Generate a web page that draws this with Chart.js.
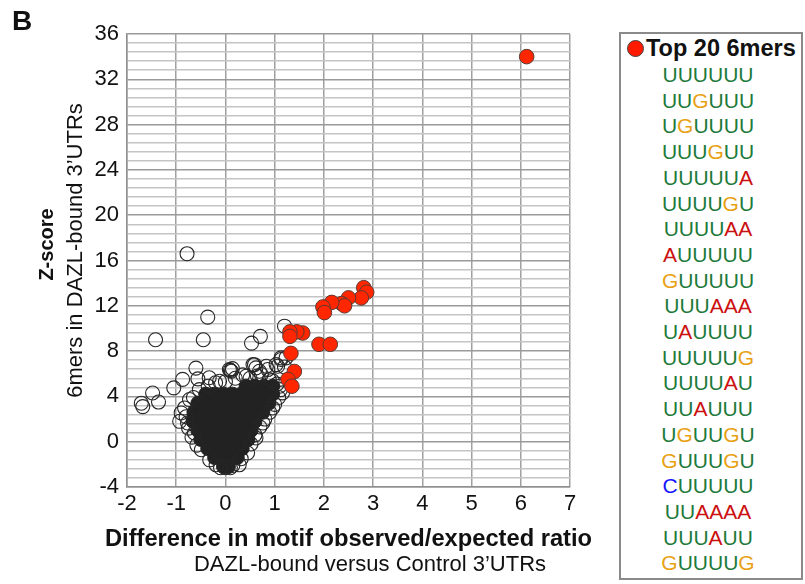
<!DOCTYPE html>
<html>
<head>
<meta charset="utf-8">
<script src="https://cdn.jsdelivr.net/npm/chart.js@4.4.1/dist/chart.umd.min.js"></script>
<style>
    body { margin: 0; background: #fff; font-family: 'Liberation Sans', Arial, sans-serif; }
    #wrap { position: relative; width: 805px; height: 584px; }
    #plot { position: absolute; left: 0; top: 0; }
    .motif-box {
        position: absolute; left: 619px; top: 32px; width: 184px; height: 548px;
        border: 2px solid #8a8a8a; box-sizing: border-box;
    }
    .motif-head { display: flex; align-items: center; height: 27px; margin-top: 1px; padding-left: 6px; }
    .motif-dot { width: 15px; height: 15px; border-radius: 50%; background: #ff1a00; border: 1.5px solid #444; margin-right: 2px; }
    .motif-title { font-weight: bold; font-size: 23.5px; color: #111; }
    .motif-list { text-align: center; font-size: 21px; line-height: 25.7px; padding-right: 6px; }
    .nt-U { color: #1d7a3a; }
    .nt-G { color: #e8a114; }
    .nt-A { color: #cc1010; }
    .nt-C { color: #1414ff; }
</style>
</head>
<body>
<div id="wrap">
    <canvas id="plot" width="610" height="584"></canvas>
    <div class="motif-box">
        <div class="motif-head"><span class="motif-dot"></span><span class="motif-title">Top 20 6mers</span></div>
        <div class="motif-list" id="motifList"></div>
    </div>
</div>
<script>
// Top 20 6mers (legend list, in order)
const topMotifs = ['UUUUUU', 'UUGUUU', 'UGUUUU', 'UUUGUU', 'UUUUUA', 'UUUUGU', 'UUUUAA',
    'AUUUUU', 'GUUUUU', 'UUUAAA', 'UAUUUU', 'UUUUUG', 'UUUUAU', 'UUAUUU', 'UGUUGU',
    'GUUUGU', 'CUUUUU', 'UUAAAA', 'UUUAUU', 'GUUUUG'];

// Top 20 6mers: [difference in obs/exp ratio, Z-score]
const topPoints = [
    [6.12, 34.0], [2.81, 13.6], [2.87, 13.2], [2.76, 12.7], [2.50, 12.7], [2.36, 12.2],
    [2.42, 12.0], [2.16, 12.3], [1.98, 11.9], [2.01, 11.4], [1.57, 9.6], [1.45, 9.7],
    [1.31, 9.7], [1.31, 9.3], [1.90, 8.6], [2.13, 8.6], [1.33, 7.8], [1.40, 6.2],
    [1.27, 5.5], [1.35, 4.9]
];

// Other 6mers, dense centre of the cloud (drawn solid)
const cloudCore = [
    [-0.04, -2.2], [0.06, -2.2],
    [-0.22, -1.4], [-0.04, -1.4], [0.14, -1.4], [0.24, -1.4],
    [-0.36, -0.6], [-0.18, -0.6], [0, -0.6], [0.18, -0.6], [0.34, -0.6],
    [-0.5, 0.2], [-0.32, 0.2], [-0.14, 0.2], [0.04, 0.2], [0.22, 0.2], [0.4, 0.2], [0.46, 0.2],
    [-0.56, 1.0], [-0.38, 1.0], [-0.2, 1.0], [-0.02, 1.0], [0.16, 1.0], [0.34, 1.0], [0.52, 1.0],
    [-0.66, 1.8], [-0.48, 1.8], [-0.3, 1.8], [-0.12, 1.8], [0.06, 1.8], [0.24, 1.8], [0.42, 1.8], [0.6, 1.8],
    [-0.64, 2.6], [-0.46, 2.6], [-0.28, 2.6], [-0.1, 2.6], [0.08, 2.6], [0.26, 2.6], [0.44, 2.6], [0.62, 2.6], [0.76, 2.6],
    [-0.56, 3.4], [-0.38, 3.4], [-0.2, 3.4], [-0.02, 3.4], [0.16, 3.4], [0.34, 3.4], [0.52, 3.4], [0.7, 3.4], [0.88, 3.4],
    [-0.4, 4.2], [-0.22, 4.2], [-0.04, 4.2], [0.14, 4.2], [0.32, 4.2], [0.5, 4.2], [0.68, 4.2], [0.86, 4.2], [0.96, 4.2],
    [0.42, 4.9], [0.6, 4.9], [0.78, 4.9], [0.96, 4.9]
];

// Other 6mers, visible open circles (edge of the cloud and outliers)
const cloudRings = [
    [-0.78, 16.6], [-0.36, 11.0], [-1.42, 9.0], [-0.45, 9.0], [1.20, 10.2], [0.71, 9.3], [0.53, 8.7],
    [-1.71, 3.4], [-1.68, 3.1], [-1.36, 3.5], [-1.48, 4.3], [-1.05, 4.75], [-0.87, 5.5], [-0.6, 6.5],
    [-0.56, 5.55], [-0.33, 5.65], [0.08, 6.37], [0.12, 6.22], [0.10, 6.3], [0.14, 6.45], [-0.12, 5.34],
    [0.42, 5.78], [0.59, 6.8], [0.62, 6.52], [0.83, 6.66], [1.03, 6.81], [1.13, 7.26], [0.73, 5.93],
    [0.89, 5.49], [1.10, 4.9], [1.16, 4.31], [0.96, 2.98], [0.76, 1.65], [0.62, 0.33], [0.45, -1.0],
    [0.28, -2.04], [-0.19, -2.04], [-0.49, -0.71], [-0.63, 0.77], [-0.77, 1.65], [-0.93, 1.8],
    [-0.9, 2.54], [-0.83, 2.98], [-0.73, 3.72], [-0.53, 4.6], [1.06, 6.66], [1.13, 7.4], [0.86, 6.37],
    [0.69, 6.22], [0.56, 6.81], [1.23, 7.4], [1.2, 6.6],
    [-0.75, 1.2], [-0.8, 2.2], [-0.65, 3.9], [-0.35, 4.9], [-0.2, 5.2], [0.0, 5.3], [0.2, 5.6],
    [0.35, 5.9], [0.5, 5.6], [0.65, 5.8], [0.95, 5.4], [1.05, 5.1], [1.12, 4.6], [1.08, 3.9],
    [1.0, 3.3], [0.9, 2.6], [0.8, 2.0], [0.7, 1.3], [0.6, 0.6], [0.52, -0.2], [0.32, -1.5],
    [0.15, -2.1], [-0.32, -1.6], [-0.58, -0.3], [-0.68, 0.4], [0.0, -2.3], [-0.1, -2.3], [0.1, -2.3]
];

// Axis ranges
const xRange = [-2, 7];
const yRange = [-4, 36];
const yLabelStep = 4;
const yMinorStep = 0.8;

const FONT = "'Liberation Sans', Arial, sans-serif";

// Legend list with coloured nucleotides
const list = document.getElementById('motifList');
list.innerHTML = topMotifs.map(m =>
    '<div>' + m.split('').map(n => `<span class="nt-${n}">${n}</span>`).join('') + '</div>'
).join('');

function toXY(arr) {
    return arr.map(p => ({ x: p[0], y: p[1] }));
}

function isMajor(v) {
    return Math.round(v * 10) % (yLabelStep * 10) === 0;
}

// Titles of the axes and panel letter
const axisTitles = {
    id: 'axisTitles',
    afterDraw(chart) {
        const ctx = chart.ctx;
        const area = chart.chartArea;
        const midY = (area.top + area.bottom) / 2;
        ctx.save();
        ctx.fillStyle = '#111';
        ctx.textBaseline = 'alphabetic';

        ctx.textAlign = 'left';
        ctx.font = `bold 28px ${FONT}`;
        ctx.fillText('B', 12, 30);

        ctx.textAlign = 'center';
        ctx.font = `bold 23.7px ${FONT}`;
        ctx.fillText('Difference in motif observed/expected ratio', (area.left + area.right) / 2, 546);
        ctx.font = `22px ${FONT}`;
        ctx.fillText('DAZL-bound versus Control 3\u2019UTRs', 370, 571);

        ctx.translate(53, midY - 16);
        ctx.rotate(-Math.PI / 2);
        ctx.font = `bold 20px ${FONT}`;
        ctx.fillText('Z-score', 0, 0);
        ctx.restore();

        ctx.save();
        ctx.fillStyle = '#111';
        ctx.textAlign = 'center';
        ctx.translate(82, midY - 10);
        ctx.rotate(-Math.PI / 2);
        ctx.font = `22px ${FONT}`;
        ctx.fillText('6mers in DAZL-bound 3\u2019UTRs', 0, 0);
        ctx.restore();
    }
};

new Chart(document.getElementById('plot'), {
    type: 'scatter',
    data: {
        datasets: [
            {
                label: 'Top 20 6mers',
                data: toXY(topPoints),
                pointRadius: 7.3,
                backgroundColor: '#ff2600',
                borderColor: '#5a3a34',
                borderWidth: 1,
                order: 0
            },
            {
                label: 'Other 6mers',
                data: toXY(cloudRings),
                pointRadius: 7,
                backgroundColor: 'rgba(0,0,0,0)',
                borderColor: '#262626',
                borderWidth: 1.1,
                order: 1
            },
            {
                label: 'Other 6mers (dense)',
                data: toXY(cloudCore),
                pointRadius: 7,
                backgroundColor: '#222',
                borderColor: '#222',
                borderWidth: 1,
                order: 2
            }
        ]
    },
    options: {
        responsive: false,
        animation: false,
        layout: { padding: { left: 0, top: 34, right: 40, bottom: 57 } },
        plugins: {
            legend: { display: false },
            tooltip: { enabled: false }
        },
        scales: {
            x: {
                type: 'linear',
                min: xRange[0],
                max: xRange[1],
                afterFit(scale) { scale.height = 40; },
                ticks: {
                    stepSize: 1,
                    font: { family: FONT, size: 22 },
                    color: '#111',
                    padding: 4
                },
                grid: { color: '#a0a0a0', lineWidth: 1.5, drawTicks: false },
                border: { color: '#909090', width: 1.5 }
            },
            y: {
                type: 'linear',
                min: yRange[0],
                max: yRange[1],
                afterFit(scale) { scale.width = 127; },
                ticks: {
                    stepSize: yMinorStep,
                    maxTicksLimit: 100,
                    autoSkip: false,
                    font: { family: FONT, size: 22 },
                    color: '#111',
                    padding: 8,
                    callback: (value) => isMajor(value) ? Math.round(value) : ''
                },
                grid: {
                    drawTicks: false,
                    lineWidth: 1.5,
                    color: (c) => c.tick && isMajor(c.tick.value) ? '#9a9a9a' : '#c4c4c4'
                },
                border: { color: '#909090', width: 1.5 }
            }
        }
    },
    plugins: [axisTitles]
});
</script>
</body>
</html>
